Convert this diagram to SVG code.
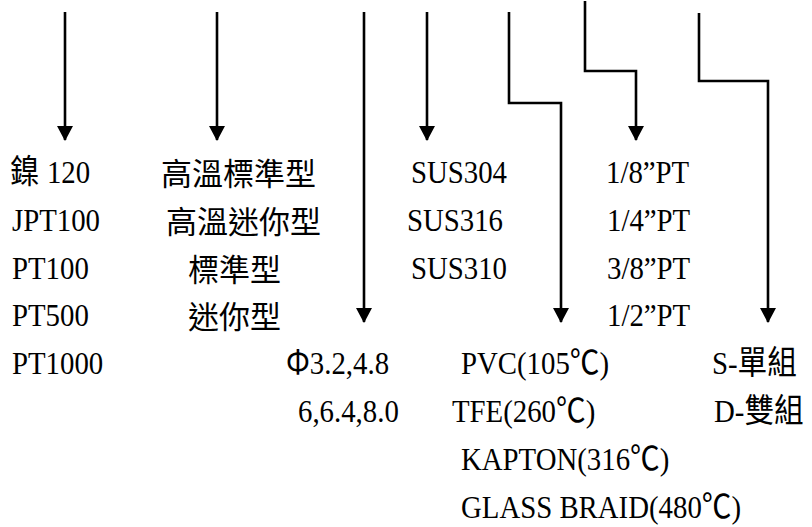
<svg xmlns="http://www.w3.org/2000/svg" width="812" height="527" viewBox="0 0 812 527">
<style>
.t{font-family:"Liberation Serif","Noto Sans CJK TC",serif;font-size:32px;fill:#000}
.c{font-family:"Noto Sans CJK TC","Liberation Serif",sans-serif;font-size:33px}
.cj{font-family:"Noto Sans CJK TC","Liberation Serif",sans-serif;font-size:31px;fill:#000}
.w{fill:none;stroke:#000;stroke-width:2.6}
</style>
<defs>
<marker id="ah" markerUnits="userSpaceOnUse" viewBox="0 0 15 16" refX="14" refY="8" markerWidth="15" markerHeight="16" orient="auto">
<path d="M0,0 L15,8 L0,16 Z" fill="#000"/>
</marker>
</defs>
<rect width="812" height="527" fill="#fff"/>
<g id="connectors">
<path class="w" d="M65,12 V140" marker-end="url(#ah)"/>
<path class="w" d="M217,12 V140" marker-end="url(#ah)"/>
<path class="w" d="M364,12 V322" marker-end="url(#ah)"/>
<path class="w" d="M427,12 V140" marker-end="url(#ah)"/>
<path class="w" d="M509,12 V103 H561 V322" marker-end="url(#ah)"/>
<path class="w" d="M585,1 V71 H636 V140" marker-end="url(#ah)"/>
<path class="w" d="M699,13 V81 H768 V322" marker-end="url(#ah)"/>
</g>
<g id="sensor">
<text class="t" transform="translate(10,183) scale(0.9,1)"><tspan class="c">鎳</tspan> 120</text>
<text class="t" transform="translate(12,231) scale(0.9,1)">JPT100</text>
<text class="t" transform="translate(12,279) scale(0.9,1)">PT100</text>
<text class="t" transform="translate(12,326) scale(0.9,1)">PT500</text>
<text class="t" transform="translate(12,374) scale(0.9,1)">PT1000</text>
</g>
<g id="type">
<text class="cj" x="161" y="185">高溫標準型</text>
<text class="cj" x="166" y="233">高溫迷你型</text>
<text class="cj" x="188" y="281">標準型</text>
<text class="cj" x="188" y="328">迷你型</text>
</g>
<g id="diameter">
<text class="t" transform="translate(286,374) scale(0.9,1)"><tspan class="c">Φ</tspan>3.2,4.8</text>
<text class="t" transform="translate(298,422) scale(0.9,1)">6,6.4,8.0</text>
</g>
<g id="material">
<text class="t" transform="translate(411,183) scale(0.9,1)">SUS304</text>
<text class="t" transform="translate(407,231) scale(0.9,1)">SUS316</text>
<text class="t" transform="translate(411,279) scale(0.9,1)">SUS310</text>
</g>
<g id="wire">
<text class="t" transform="translate(461,374) scale(0.9,1)">PVC(105<tspan class="c">℃</tspan>)</text>
<text class="t" transform="translate(452,422) scale(0.9,1)">TFE(260<tspan class="c">℃</tspan>)</text>
<text class="t" transform="translate(461,470) scale(0.9,1)">KAPTON(316<tspan class="c">℃</tspan>)</text>
<text class="t" transform="translate(461,518) scale(0.9,1)">GLASS BRAID(480<tspan class="c">℃</tspan>)</text>
</g>
<g id="thread">
<text class="t" transform="translate(606,183) scale(0.9,1)">1/8”PT</text>
<text class="t" transform="translate(607,231) scale(0.9,1)">1/4”PT</text>
<text class="t" transform="translate(607,279) scale(0.9,1)">3/8”PT</text>
<text class="t" transform="translate(607,326) scale(0.9,1)">1/2”PT</text>
</g>
<g id="element">
<text class="t" transform="translate(712,374) scale(0.9,1)">S-<tspan class="c">單組</tspan></text>
<text class="t" transform="translate(714,422) scale(0.9,1)">D-<tspan class="c">雙組</tspan></text>
</g>
</svg>
